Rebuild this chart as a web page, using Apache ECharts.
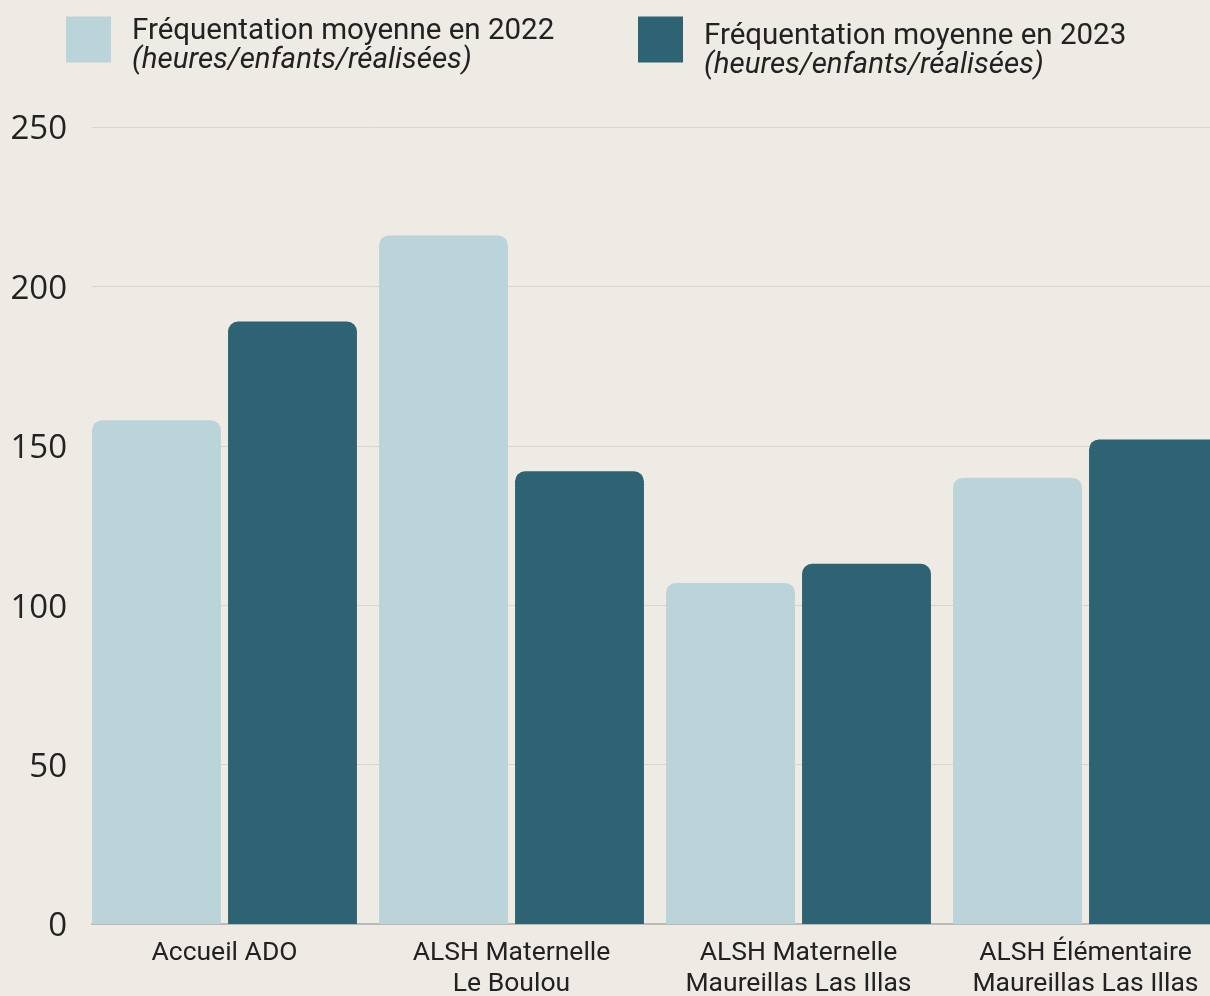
<!DOCTYPE html>
<html lang="fr">
<head>
<meta charset="utf-8">
<title>Fréquentation moyenne par structure</title>
<script src="https://cdn.jsdelivr.net/npm/echarts@6/dist/echarts.min.js"></script>
<style>
  html, body { margin: 0; padding: 0; background: #EEEAE4; }
  #chart { width: 1210px; height: 996px; }
</style>
</head>
<body>
<div id="chart"></div>
<script>
// Structures d'accueil (libellés sur deux lignes)
const categories = [
  'Accueil ADO',
  'ALSH Maternelle\nLe Boulou',
  'ALSH Maternelle\nMaureillas Las Illas',
  'ALSH Élémentaire\nMaureillas Las Illas'
];

// Fréquentation moyenne (heures/enfants/réalisées)
const values2022 = [158, 216, 107, 140];
const values2023 = [189, 142, 113, 152];

const seriesNames = ['Fréquentation moyenne en 2022', 'Fréquentation moyenne en 2023'];
const unitNote = '(heures/enfants/réalisées)';

// Graduations de l'axe vertical
const yMin = 0;
const yMax = 250;
const yStep = 50;

const colors = ['#BAD4DA', '#2E6373'];
const textColor = '#222222';

const chart = echarts.init(document.getElementById('chart'), null, { renderer: 'canvas' });

// A thin spacer line on top pushes the two text lines down relative to the square
function legendFormatter(name) {
  return '{s| }\n{a|' + name + '}\n{b|' + unitNote + '}';
}

function legendText(spacer) {
  return {
    padding: [0, 0, 0, 16],
    rich: {
      s: { fontSize: 1, lineHeight: spacer },
      a: { fontFamily: 'Roboto', fontSize: 29.5, lineHeight: 29, color: textColor },
      b: { fontFamily: 'Roboto', fontStyle: 'italic', fontSize: 29.5, lineHeight: 29, color: textColor }
    }
  };
}

const option = {
  backgroundColor: '#EEEAE4',
  animation: false,
  legend: [
    {
      data: [seriesNames[0]],
      left: 66, top: 10, padding: 0,
      icon: 'rect', itemWidth: 45, itemHeight: 46,
      selectedMode: false,
      formatter: legendFormatter,
      textStyle: legendText(14)
    },
    {
      data: [seriesNames[1]],
      left: 638, top: 10, padding: 0,
      icon: 'rect', itemWidth: 45, itemHeight: 46,
      selectedMode: false,
      formatter: legendFormatter,
      textStyle: legendText(24)
    }
  ],
  grid: [
    // bars
    { left: 81, top: 127, width: 1148, height: 797, outerBoundsMode: 'none', containLabel: false },
    // axis line, grid lines and tick labels
    { left: 92, top: 127, width: 1118, height: 797, outerBoundsMode: 'none', containLabel: false }
  ],
  xAxis: [
    {
      type: 'category', gridIndex: 0, data: categories,
      axisLine: { show: false }, axisTick: { show: false },
      axisLabel: {
        interval: 0, margin: 14,
        fontFamily: 'Roboto', fontSize: 26.5, lineHeight: 31, color: textColor
      }
    },
    {
      type: 'category', gridIndex: 1, data: categories,
      axisLine: { show: true, lineStyle: { color: '#BDBAB5', width: 2 } },
      axisTick: { show: false }, axisLabel: { show: false }
    }
  ],
  yAxis: [
    { type: 'value', gridIndex: 0, min: yMin, max: yMax, interval: yStep, show: false },
    {
      type: 'value', gridIndex: 1, min: yMin, max: yMax, interval: yStep,
      axisLine: { show: false }, axisTick: { show: false },
      axisLabel: {
        margin: 25,
        formatter: '{v|{value}}',
        rich: { v: { fontFamily: 'Open Sans', fontSize: 33, color: textColor, padding: [6, 0, 0, 0] } }
      },
      splitLine: { lineStyle: { color: '#D8D4CE', width: 1 } }
    }
  ],
  series: [
    {
      name: seriesNames[0], type: 'bar', xAxisIndex: 0, yAxisIndex: 0,
      data: values2022, barGap: '5.5%', barCategoryGap: '7.7%',
      itemStyle: { color: colors[0], borderRadius: [10, 10, 0, 0] }
    },
    {
      name: seriesNames[1], type: 'bar', xAxisIndex: 0, yAxisIndex: 0,
      data: values2023, barGap: '5.5%', barCategoryGap: '7.7%',
      itemStyle: { color: colors[1], borderRadius: [10, 10, 0, 0] }
    }
  ]
};

chart.setOption(option);
</script>
</body>
</html>
